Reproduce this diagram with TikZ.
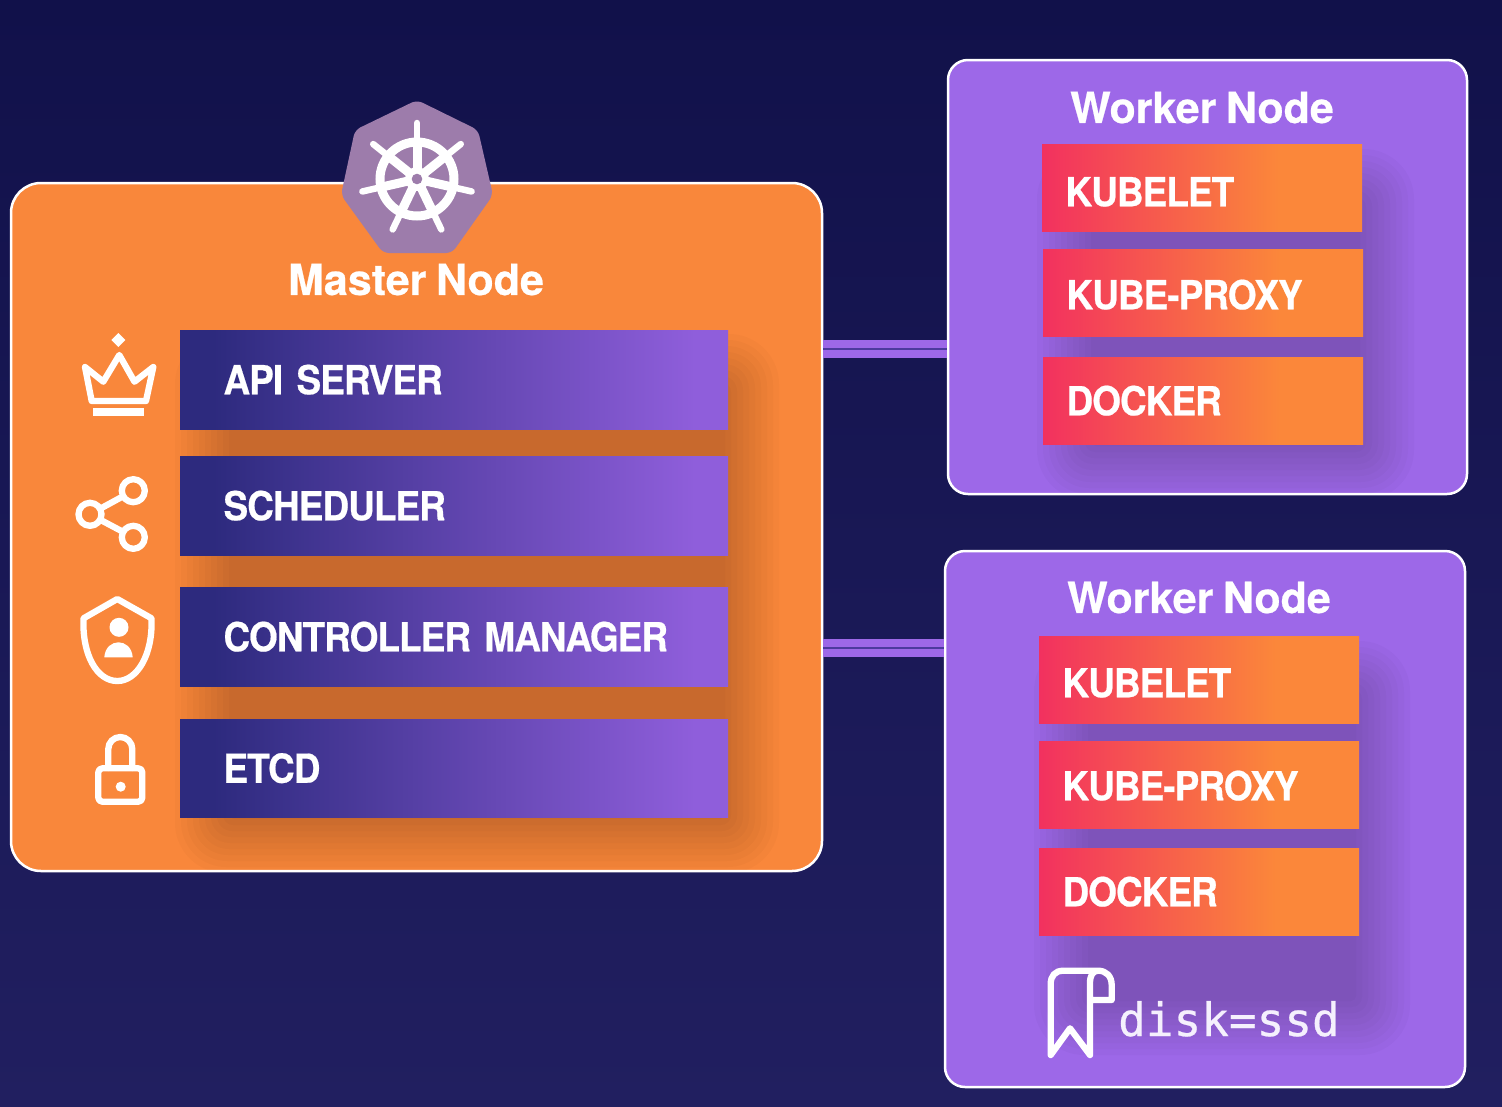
\documentclass[tikz,border=0pt]{standalone}
\usepackage{fontspec}
\setmainfont{TeX Gyre Heros}
\newfontfamily\labfont[FakeStretch=0.925,LetterSpace=-2.5,FakeBold=0.5,WordSpace=0.6]{TeX Gyre Heros}
\newfontfamily\titlefont[LetterSpace=0,FakeBold=0.5,WordSpace=0.8]{TeX Gyre Heros}
\newfontfamily\monofont[FakeBold=0.5]{DejaVu Sans Mono}
\usetikzlibrary{calc}
\definecolor{bgtop}{HTML}{11114A}
\definecolor{bgbot}{HTML}{211F60}
\definecolor{orangecard}{HTML}{F9873B}
\definecolor{purplecard}{HTML}{9D68E8}
\definecolor{linkdark}{HTML}{4C3A9E}
\definecolor{helm}{HTML}{9D7CAB}
\definecolor{navya}{HTML}{2D2A7E}
\definecolor{navyb}{HTML}{8F5EDB}
\definecolor{reda}{HTML}{F2315F}
\definecolor{redb}{HTML}{FB873A}
\pgfdeclarehorizontalshading{barpurple}{100bp}{color(0bp)=(navya);color(28bp)=(navya);color(72bp)=(navyb);color(100bp)=(navyb)}
\pgfdeclarehorizontalshading{barred}{100bp}{color(0bp)=(reda);color(25bp)=(reda);color(62bp)=(redb);color(100bp)=(redb)}
\tikzset{
  x=1pt,y=-1pt,
  card/.style={draw=white,line width=2.5pt,anchor=north west,inner sep=0pt,outer sep=0pt},
  cardtitle/.style={text=white,font=\titlefont\bfseries\fontsize{43}{43}\selectfont,inner sep=0pt},
  masterbar/.style={shading=barpurple,anchor=north west,text=white,inner ysep=0pt,inner xsep=43.5pt,outer sep=0pt,
    font=\labfont\bfseries\fontsize{40}{40}\selectfont,minimum height=99.5pt,minimum width=548pt,text height=29pt,text depth=0pt,text width=461pt},
  workerbar/.style={shading=barred,anchor=north west,text=white,inner ysep=0pt,inner xsep=23.5pt,outer sep=0pt,
    font=\labfont\bfseries\fontsize{40}{40}\selectfont,minimum height=87.5pt,minimum width=320pt,text height=29pt,text depth=0pt,text width=273pt},
  link/.style={draw=purplecard,line width=17.5pt},
  linkcore/.style={draw=linkdark,line width=2pt},
  icon/.style={draw=white,line width=6.3pt,line join=round,line cap=round},
}
% soft shadow made of stacked translucent rounded boxes
\newcommand{\softshade}[4]{%
  \foreach \k in {1,...,10}{%
    \pgfmathsetmacro{\spr}{(\k-4.5)*6}
    \pgfmathsetmacro{\rad}{\k*5}
    \fill[black,opacity=.018,rounded corners=\rad pt]
      ({#1+18-\spr},{#2+22-\spr}) rectangle ({#3+18+\spr},{#4+22+\spr});
  }}
\begin{document}
\begin{tikzpicture}
\useasboundingbox (0,0) rectangle (1502,1106);
\shade[top color=bgtop,bottom color=bgbot] (0,0) rectangle (1502,1106);

% cards
\node[card,fill=orangecard,rounded corners=30pt,minimum width=811pt,minimum height=688pt] (master) at (11,183) {};
\node[card,fill=purplecard,rounded corners=20pt,minimum width=519pt,minimum height=434pt] (workerA) at (948,60) {};
\node[card,fill=purplecard,rounded corners=20pt,minimum width=520pt,minimum height=536pt] (workerB) at (945,551) {};

% connectors
\draw[link] (master.east |- 0,349) -- (workerA.west |- 0,349);
\draw[linkcore] (master.east |- 0,349) -- (workerA.west |- 0,349);
\draw[link] (master.east |- 0,648) -- (workerB.west |- 0,648);
\draw[linkcore] (master.east |- 0,648) -- (workerB.west |- 0,648);
\draw[white,line width=2.5pt] (master.north east) ++(0,30) -- ($(master.south east)+(0,-30)$);
\draw[white,line width=2.5pt] (workerA.north west) ++(0,20) -- ($(workerA.south west)+(0,-20)$);
\draw[white,line width=2.5pt] (workerB.north west) ++(0,20) -- ($(workerB.south west)+(0,-20)$);

% shadows, kept inside their cards
\begin{scope}
\clip[rounded corners=30pt] (12,184) rectangle (821,870);
\softshade{190}{345}{728}{818}
\end{scope}
\begin{scope}
\clip[rounded corners=20pt] (949,61) rectangle (1466,493);
\softshade{1052}{160}{1363}{445}
\end{scope}
\begin{scope}
\clip[rounded corners=20pt] (946,552) rectangle (1464,1086);
\softshade{1049}{652}{1359}{1000}
\end{scope}

% master bars
\node[masterbar] (api) at (180,330) {API SERVER};
\node[masterbar] (sched) at (180,456) {SCHEDULER};
\node[masterbar] (ctrl) at (180,587) {CONTROLLER MANAGER};
\node[masterbar,minimum height=98.5pt] (etcd) at (180,719) {ETCD};

% worker A bars
\node[workerbar,text height=37pt] (kubeA) at (1042,144) {KUBELET};
\node[workerbar,text height=33pt] (proxyA) at (1043,249) {KUBE-PROXY};
\node[workerbar] (dockerA) at (1043,357) {DOCKER};

% worker B bars
\node[workerbar,text height=35pt] (kubeB) at (1039,636) {KUBELET};
\node[workerbar,text height=31pt] (proxyB) at (1039,741) {KUBE-PROXY};
\node[workerbar] (dockerB) at (1039,848) {DOCKER};

% titles
\node[cardtitle] (titleM) at (416,279.5) {Master Node};
\node[cardtitle] (titleA) at (1202,107.5) {Worker Node};
\node[cardtitle] (titleB) at (1199,597.5) {Worker Node};

% helm badge
\fill[helm,rounded corners=6pt] (417,100) -- (478,130) -- (493,195) -- (452,253) -- (383,253) -- (341,195) -- (355,130) -- cycle;
\draw[white,line width=9pt] (417,179) circle (37);
\foreach \a in {90,38.57,-12.86,-64.29,-115.71,-167.14,141.43}{
  \draw[white,line width=6.5pt,line cap=round] (417,179) -- ({417+56*cos(\a)},{179-56*sin(\a)});
  \draw[white,line width=9pt] (417,179) -- ({417+36*cos(\a)},{179-36*sin(\a)});
}
\fill[white] (417,179) circle (12);
\fill[helm] (417,179) circle (5.3);

% crown
\fill[white] (118.3,333) -- (125.3,340) -- (118.3,347) -- (111.3,340) -- cycle;
\draw[icon] (91.7,401) -- (85,367) -- (103.3,381.7) -- (119.3,355) -- (134.5,381.7) -- (153.3,367) -- (146,401) -- cycle;
\fill[white] (92.7,408.3) rectangle (144,416);

% share
\draw[icon] (90,514.3) -- (133.3,490.7);
\draw[icon] (90,514.3) -- (133.3,537.3);
\draw[icon,fill=orangecard] (133.3,490.7) circle (11.5);
\draw[icon,fill=orangecard] (90,514.3) circle (11.5);
\draw[icon,fill=orangecard] (133.3,537.3) circle (11.5);

% shield
\draw[icon] (117.3,599) -- (151.5,618.3) .. controls (153,655) and (137,681) .. (117.3,681) .. controls (97,681) and (82,655) .. (83.5,618.3) -- cycle;
\fill[white] (119,627.3) circle (9.5);
\fill[white] (104.3,657.3) .. controls (105,647) and (112,642.3) .. (118.5,642.3) .. controls (125,642.3) and (132,647) .. (132.7,657.3) -- cycle;

% lock
\draw[icon,rounded corners=4pt] (98.3,768.3) rectangle (142.3,801.7);
\draw[icon] (108.3,768) -- (108.3,749) arc[start angle=180,end angle=360,radius=12] -- (132.3,768);
\fill[white] (120.7,786.7) circle (5);

% bookmark
\draw[icon] (1090,1000) -- (1111.7,1000) -- (1111.7,985) .. controls (1111.7,976) and (1106,970.7) .. (1098.3,970.7) -- (1063.3,970.7) .. controls (1055,970.7) and (1050.7,976) .. (1050.7,984) -- (1050.7,1055) -- (1070,1028.3) -- (1090,1055) -- (1090,983) .. controls (1090,975) and (1093,970.7) .. (1098.3,970.7);
\node[text=white!90!purplecard,font=\monofont\fontsize{46}{46}\selectfont,anchor=base west,inner sep=0pt] (disk) at (1118,1036) {disk=ssd};
\end{tikzpicture}
\end{document}
